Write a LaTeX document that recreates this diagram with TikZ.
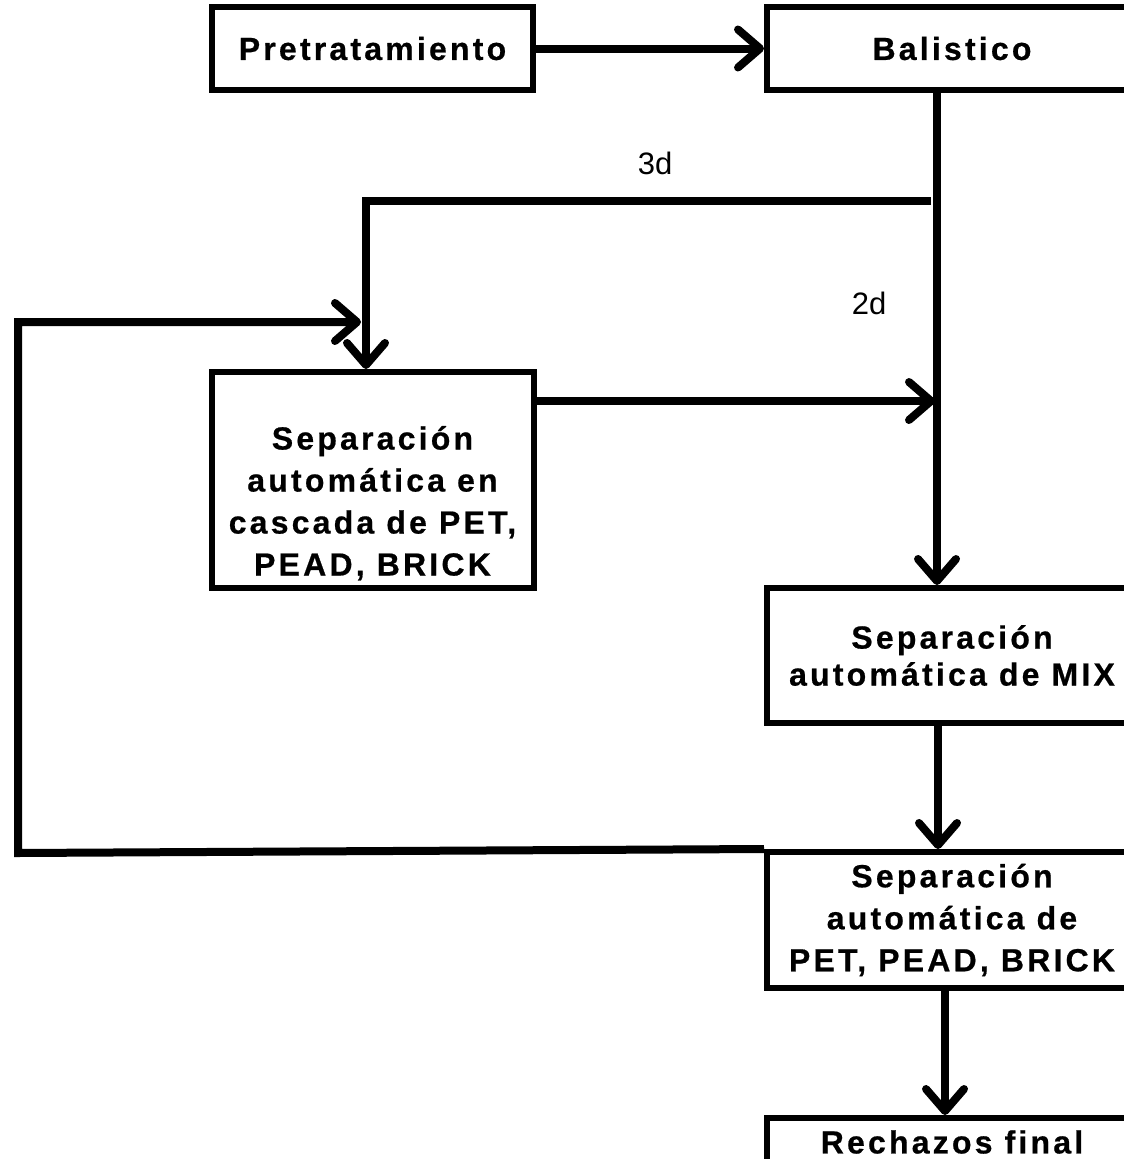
\documentclass[tikz,border=0pt]{standalone}
\usepackage{fontspec}
\setmainfont{Liberation Sans}
\newfontfamily\cajafont{Liberation Sans}[LetterSpace=10, BoldFeatures={FakeBold=0.6}]
\usepackage{tikz}
\usetikzlibrary{arrows.meta}

\begin{document}
\begin{tikzpicture}[x=1pt,y=-1pt,
  caja/.style={draw, line width=6pt, inner sep=0pt, align=center,
    font=\cajafont\bfseries\fontsize{32}{42}\selectfont},
  rotulo/.style={inner sep=0pt, font=\fontsize{31}{35}\selectfont},
  flecha/.style={line width=8pt, -{Straight Barb[length=22pt,width=38pt,round]}}]
  \useasboundingbox (0,0) rectangle (1124,1159);
  \clip (0,0) rectangle (1124,1159);

  \node[caja, minimum width=321, minimum height=83] (pretrat) at (372.5,48.5) {Pretratamiento};
  \node[caja, minimum width=370, minimum height=83] (balist) at (952,48.5) {Balistico};
  \node[caja, minimum width=322, minimum height=216] (cascada) at (372.5,480)
    {\rule{0pt}{70pt}Separación\\automática en\\cascada de PET,\\PEAD, BRICK};
  \node[caja, minimum width=370, minimum height=135,
    font=\cajafont\bfseries\fontsize{32}{37}\selectfont] (mix) at (952,655.5)
    {Separación\\automática de MIX};
  \node[caja, minimum width=370, minimum height=136] (sepfinal) at (952,920)
    {Separación\\automática de\\PET, PEAD, BRICK};
  \node[caja, minimum width=370, minimum height=48] (rechazo) at (952,1142) {Rechazos final};

  \node[rotulo] (lbl3d) at (655,163) {3d};
  \node[rotulo] (lbl2d) at (869,303) {2d};

  \coordinate (tronco) at (937,0);
  \coordinate (r3d) at (931,200.5);
  \coordinate (c3d) at (366,200.5);
  \coordinate (e2d) at (935,401);
  \coordinate (fbl) at (18,853);
  \coordinate (fbt) at (18,322);
  \coordinate (fbe) at (361,322);

  \draw[flecha] (pretrat) -- (balist);
  \draw[flecha] (balist.south -| tronco) -- (mix.north -| tronco);
  \draw[flecha] (r3d) -- (c3d) -- (c3d |- cascada.north);
  \draw[flecha] (e2d -| cascada.east) -- (e2d);
  \draw[flecha] (sepfinal.north west) -- (fbl) -- (fbt) -- (fbe);
  \draw[flecha] ([xshift=-14]mix.south) -- ([xshift=-14]sepfinal.north);
  \draw[flecha] ([xshift=-7]sepfinal.south) -- ([xshift=-7]rechazo.north);
\end{tikzpicture}
\end{document}
